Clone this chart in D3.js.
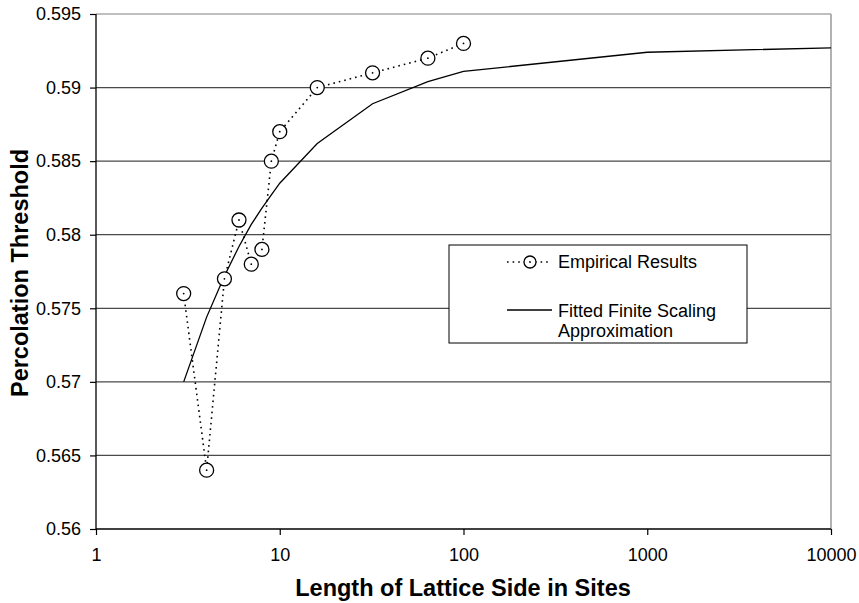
<!DOCTYPE html>
<meta charset="utf-8">
<style>
  body { margin: 0; background: #fff; }
  .chart text { font-family: Arial, "Liberation Sans", sans-serif; fill: #000; }
  .title { font-size: 23.5px; font-weight: bold; }
  .legend text { font-size: 18px; }
</style>
<body>
<svg class="chart"></svg>
<script src="https://d3js.org/d3.v7.min.js"></script>
<script>
// data
var sizes = [3, 4, 5, 6, 7, 8, 9, 10, 16, 32, 64, 100];
var empirical = [0.576, 0.564, 0.577, 0.581, 0.578, 0.579, 0.585, 0.587, 0.590, 0.591, 0.592, 0.593];
var fitSizes = [3, 4, 5, 6, 7, 8, 9, 10, 16, 32, 64, 100, 1000, 10000];
var fitted = [0.5700, 0.5744, 0.5772, 0.5792, 0.5807, 0.5818, 0.5827, 0.5835, 0.5862, 0.5889, 0.5904, 0.5911, 0.5924, 0.5927];
var xTicks = [1, 10, 100, 1000, 10000];
var yTicks = [0.56, 0.565, 0.57, 0.575, 0.58, 0.585, 0.59, 0.595];

var w = 859, h = 603;
var pLeft = 96, pRight = 831, pTop = 14, pBottom = 529;

var svg = d3.select(".chart").attr("width", w).attr("height", h);

var x = d3.scaleLog().domain([1, 10000]).range([pLeft, pRight]);
var y = d3.scaleLinear().domain([0.56, 0.595]).range([pBottom, pTop]);

// gridlines (top one is part of the gray frame)
svg.append("g").selectAll("line")
    .data(yTicks.slice(1))
    .enter().append("line")
    .attr("x1", pLeft).attr("x2", pRight)
    .attr("y1", function (d) { return y(d); })
    .attr("y2", function (d) { return y(d); })
    .attr("stroke", function (d) { return d === 0.595 ? "#808080" : "#4a4a4a"; })
    .attr("stroke-width", 1.2);

// right border
svg.append("line")
    .attr("x1", pRight).attr("x2", pRight)
    .attr("y1", pTop).attr("y2", pBottom)
    .attr("stroke", "#999").attr("stroke-width", 1.5);

// axes
var xAxis = d3.axisBottom(x).tickValues(xTicks).tickFormat(d3.format("d")).tickSize(6).tickPadding(13);
var yAxis = d3.axisLeft(y).tickValues(yTicks).tickFormat(function (d) { return String(+d.toFixed(3)); }).tickSize(6).tickPadding(9);

var gx = svg.append("g").attr("transform", "translate(0," + pBottom + ")").call(xAxis);
var gy = svg.append("g").attr("transform", "translate(" + pLeft + ",0)").call(yAxis);
[gx, gy].forEach(function (g) {
    g.select(".domain").attr("stroke", "#000").attr("stroke-width", 1.3);
    g.selectAll(".tick line").attr("stroke", "#000").attr("stroke-width", 1.2);
    g.selectAll(".tick text").attr("fill", "#000")
        .style("font-family", "Arial, 'Liberation Sans', sans-serif")
        .style("font-size", "18px");
});
gx.select(".domain").attr("d", "M" + pLeft + ",0H" + pRight);
gy.select(".domain").attr("d", "M0," + pBottom + "V" + pTop);

// fitted line
var fitData = fitSizes.map(function (s, i) { return [s, fitted[i]]; });
var line = d3.line().x(function (d) { return x(d[0]); }).y(function (d) { return y(d[1]); });
svg.append("path")
    .datum(fitData)
    .attr("d", line)
    .attr("fill", "none")
    .attr("stroke", "#000")
    .attr("stroke-width", 1.3);

// empirical dotted line with circles
var empData = sizes.map(function (s, i) { return [s, empirical[i]]; });
svg.append("path")
    .datum(empData)
    .attr("d", line)
    .attr("fill", "none")
    .attr("stroke", "#000")
    .attr("stroke-width", 1.6)
    .attr("stroke-dasharray", "1.6,4");

var pts = svg.append("g").selectAll("g")
    .data(empData)
    .enter().append("g")
    .attr("transform", function (d) { return "translate(" + x(d[0]) + "," + y(d[1]) + ")"; });
pts.append("circle").attr("r", 7).attr("fill", "#fff").attr("stroke", "#000").attr("stroke-width", 1.3);
pts.append("circle").attr("r", 0.9).attr("fill", "#000");

// axis titles
svg.append("text")
    .attr("class", "title")
    .attr("x", 463).attr("y", 596)
    .attr("text-anchor", "middle")
    .text("Length of Lattice Side in Sites");

svg.append("text")
    .attr("class", "title")
    .attr("transform", "translate(28,273) rotate(-90)")
    .attr("text-anchor", "middle")
    .text("Percolation Threshold");

// legend
var lg = svg.append("g").attr("class", "legend");
lg.append("rect")
    .attr("x", 449).attr("y", 245)
    .attr("width", 298).attr("height", 98)
    .attr("fill", "#fff").attr("stroke", "#000").attr("stroke-width", 1);
lg.append("line")
    .attr("x1", 507).attr("x2", 550).attr("y1", 262).attr("y2", 262)
    .attr("stroke", "#000").attr("stroke-width", 1.6).attr("stroke-dasharray", "1.6,4");
lg.append("circle").attr("cx", 530).attr("cy", 262).attr("r", 6).attr("fill", "#fff").attr("stroke", "#000").attr("stroke-width", 1.3);
lg.append("circle").attr("cx", 530).attr("cy", 262).attr("r", 0.9).attr("fill", "#000");
lg.append("text").attr("x", 558).attr("y", 268).text("Empirical Results");
lg.append("line")
    .attr("x1", 507).attr("x2", 552).attr("y1", 310).attr("y2", 310)
    .attr("stroke", "#000").attr("stroke-width", 1.3);
lg.append("text").attr("x", 558).attr("y", 317).text("Fitted Finite Scaling");
lg.append("text").attr("x", 558).attr("y", 337).text("Approximation");
</script>
</body>
